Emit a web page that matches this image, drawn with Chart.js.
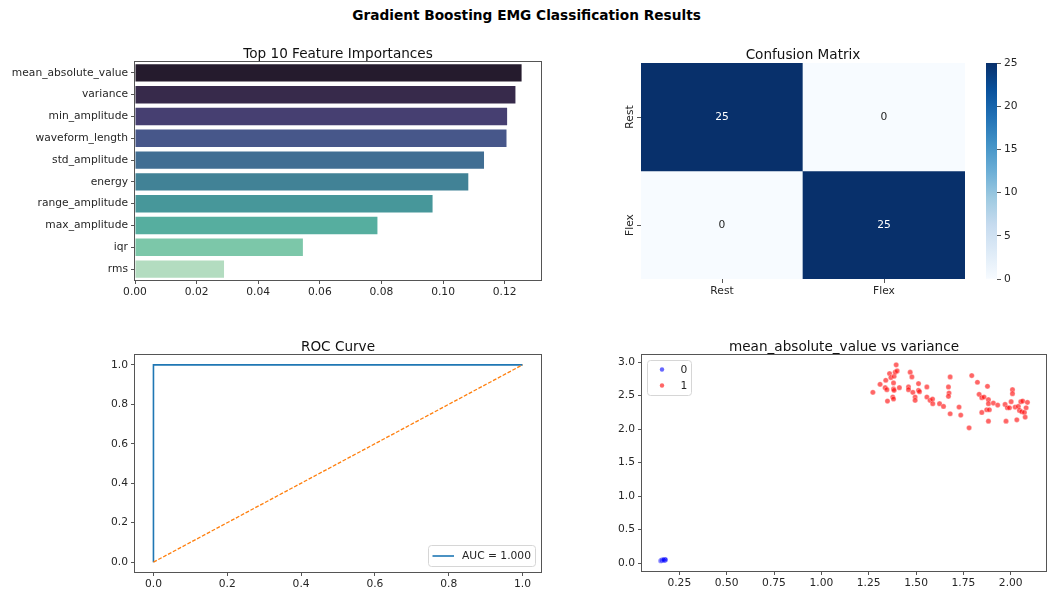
<!DOCTYPE html>
<html>
<head>
<meta charset="utf-8">
<script src="https://cdn.jsdelivr.net/npm/chart.js@4.4.1/dist/chart.umd.min.js"></script>
<style>
  html, body { margin: 0; padding: 0; background: #fff; }
  #fig { position: relative; width: 1053px; height: 590px; overflow: hidden; font-family: "DejaVu Sans", sans-serif; }
  #fig canvas { position: absolute; }
  #suptitle { position: absolute; left: 0; top: 7px; width: 1053px; text-align: center;
              font: bold 13.7px "DejaVu Sans", sans-serif; color: #000; line-height: 17px; }
</style>
</head>
<body>
<div id="fig">
  <div id="suptitle">Gradient Boosting EMG Classification Results</div>
  <canvas id="cImp" width="560" height="260" style="left:0px;top:40px"></canvas>
  <canvas id="cCm"  width="380" height="260" style="left:590px;top:40px"></canvas>
  <canvas id="cBar" width="93"  height="260" style="left:960px;top:40px"></canvas>
  <canvas id="cRoc" width="560" height="260" style="left:0px;top:330px"></canvas>
  <canvas id="cSc"  width="463" height="260" style="left:590px;top:330px"></canvas>
</div>
<script>
// ---------- data ----------
const features = ['mean_absolute_value', 'variance', 'min_amplitude', 'waveform_length', 'std_amplitude',
                  'energy', 'range_amplitude', 'max_amplitude', 'iqr', 'rms'];
const importances = [0.1255, 0.1235, 0.1208, 0.1206, 0.1133, 0.1082, 0.0966, 0.0787, 0.0545, 0.0289];
const importanceTicks = [0, 0.02, 0.04, 0.06, 0.08, 0.10, 0.12];

const cmRows = ['Rest', 'Flex'];
const cmCols = ['Rest', 'Flex'];
const cmValues = [[25, 0], [0, 25]];
const colorbarTicks = [0, 5, 10, 15, 20, 25];

const rocFpr = [0, 0, 1];
const rocTpr = [0, 1, 1];
const chanceX = [0, 1];
const chanceY = [0, 1];
const rocAuc = 1.0;
const rocTicks = [0, 0.2, 0.4, 0.6, 0.8, 1.0];

const class0X = [0.152, 0.156, 0.158, 0.160, 0.162, 0.163, 0.165, 0.166, 0.168, 0.170, 0.172, 0.174, 0.176, 0.158, 0.167];
const class0Y = [0.036, 0.038, 0.040, 0.041, 0.043, 0.040, 0.045, 0.042, 0.046, 0.047, 0.048, 0.050, 0.052, 0.044, 0.049];
const class1X = [1.272, 1.310, 1.340, 1.337, 1.346, 1.349, 1.360, 1.367, 1.377, 1.381, 1.381, 1.381, 1.384, 1.390, 1.395,
                 1.400, 1.384, 1.412, 1.460, 1.460, 1.469, 1.478, 1.483, 1.495, 1.495, 1.513, 1.513, 1.518, 1.557, 1.557,
                 1.574, 1.587, 1.588, 1.624, 1.645, 1.671, 1.674, 1.671, 1.680, 1.680, 1.727, 1.736, 1.780, 1.794, 1.824,
                 1.833, 1.847, 1.859, 1.847, 1.873, 1.877, 1.882, 1.882, 1.882, 1.887, 1.908, 1.931, 1.970, 1.975, 1.982,
                 1.993, 2.002, 2.009, 2.009, 2.023, 2.032, 2.040, 2.046, 2.053, 2.058, 2.063, 2.072, 2.076, 2.088, 2.081];
const class1Y = [2.55, 2.67, 2.73, 2.62, 2.59, 2.42, 2.83, 2.77, 2.48, 2.45, 2.69, 2.60, 2.79, 2.85, 2.96,
                 2.87, 2.58, 2.62, 2.63, 2.59, 2.85, 2.78, 2.55, 2.48, 2.43, 2.68, 2.58, 2.56, 2.63, 2.48,
                 2.43, 2.45, 2.38, 2.38, 2.34, 2.63, 2.54, 2.49, 2.78, 2.23, 2.33, 2.21, 2.02, 2.80, 2.70,
                 2.52, 2.47, 2.48, 2.25, 2.29, 2.64, 2.12, 2.44, 2.38, 2.29, 2.39, 2.36, 2.37, 2.12, 2.32,
                 2.32, 2.41, 2.59, 2.53, 2.33, 2.14, 2.34, 2.28, 2.41, 2.26, 2.42, 2.25, 2.18, 2.40, 2.32];
const scatterXTicks = [0.25, 0.50, 0.75, 1.00, 1.25, 1.50, 1.75, 2.00];
const scatterYTicks = [0, 0.5, 1.0, 1.5, 2.0, 2.5, 3.0];

// ---------- styling ----------
const FONT = '"DejaVu Sans", sans-serif';
const TICK_FONT = { family: FONT, size: 10.7 };
const TEXT = '#262626';
const SPINE = '#555';
const makoPalette = ['#251b2d', '#372a4b', '#463f71', '#47578a', '#416e93', '#418296', '#47979a', '#56ae9f', '#7cc7a9', '#b3dcc0'];
const bluesStops = ['#f7fbff', '#deebf7', '#c6dbef', '#9ecae1', '#6baed6', '#4292c6', '#2171b5', '#08519c', '#08306b'];

Chart.defaults.font.family = FONT;
Chart.defaults.font.size = 10.7;
Chart.defaults.color = TEXT;
Chart.defaults.animation = false;
Chart.defaults.responsive = false;
Chart.defaults.plugins.legend.display = false;
Chart.defaults.plugins.tooltip.enabled = false;

function hexToRgb(h) {
  const n = parseInt(h.slice(1), 16);
  return [(n >> 16) & 255, (n >> 8) & 255, n & 255];
}
function blues(t) {
  t = Math.max(0, Math.min(1, t));
  const p = t * (bluesStops.length - 1);
  const i = Math.min(Math.floor(p), bluesStops.length - 2);
  const f = p - i;
  const a = hexToRgb(bluesStops[i]), b = hexToRgb(bluesStops[i + 1]);
  const c = a.map((v, k) => Math.round(v + (b[k] - v) * f));
  return `rgb(${c[0]},${c[1]},${c[2]})`;
}

const fixedTicks = values => scale => { scale.ticks = values.map(v => ({ value: v })); };
const tickGrid = { display: true, drawOnChartArea: false, drawTicks: true, tickLength: 4, tickColor: SPINE, tickWidth: 1 };

// subplot title above the plot area
const axTitle = text => ({
  id: 'axTitle',
  afterDraw(chart) {
    const { ctx, chartArea: a } = chart;
    ctx.save();
    ctx.font = `13.6px ${FONT}`;
    ctx.fillStyle = '#111';
    ctx.textAlign = 'center';
    ctx.textBaseline = 'alphabetic';
    ctx.fillText(text, (a.left + a.right) / 2, a.top - 4);
    ctx.restore();
  }
});

// four-sided axes box
const frame = {
  id: 'frame',
  afterDraw(chart) {
    const { ctx, chartArea: a } = chart;
    ctx.save();
    ctx.strokeStyle = SPINE;
    ctx.lineWidth = 1;
    const l = Math.round(a.left) - 0.5, t = Math.round(a.top) - 0.5;
    const r = Math.round(a.right) + 0.5, b = Math.round(a.bottom) + 0.5;
    ctx.strokeRect(l, t, r - l, b - t);
    ctx.restore();
  }
};

function legendBox(ctx, x, y, w, h) {
  ctx.save();
  ctx.fillStyle = 'rgba(255,255,255,0.8)';
  ctx.strokeStyle = '#d6d6d6';
  ctx.lineWidth = 1;
  ctx.beginPath();
  ctx.roundRect(x + 0.5, y + 0.5, w, h, 3);
  ctx.fill();
  ctx.stroke();
  ctx.restore();
}

// ---------- feature importances ----------
new Chart(document.getElementById('cImp'), {
  type: 'bar',
  data: {
    labels: features,
    datasets: [{
      data: importances,
      backgroundColor: makoPalette,
      borderWidth: 0,
      barPercentage: 0.8,
      categoryPercentage: 1.0
    }]
  },
  options: {
    indexAxis: 'y',
    layout: { padding: { left: 0, right: 19, top: 22, bottom: 0 } },
    scales: {
      x: {
        type: 'linear', min: 0, max: 0.1318,
        afterBuildTicks: fixedTicks(importanceTicks),
        afterFit: s => { s.height = 20; },
        ticks: { font: TICK_FONT, color: TEXT, padding: 2, maxRotation: 0, callback: v => Number(v).toFixed(2) },
        grid: tickGrid,
        border: { display: false }
      },
      y: {
        type: 'category',
        afterFit: s => { s.width = 135; },
        ticks: { font: TICK_FONT, color: TEXT, padding: 3 },
        grid: Object.assign({}, tickGrid, { offset: false }),
        border: { display: false }
      }
    }
  },
  plugins: [frame, axTitle('Top 10 Feature Importances')]
});

// ---------- confusion matrix ----------
const cmMax = Math.max(...cmValues.flat());
const cmLabels = {
  id: 'cmLabels',
  afterDatasetsDraw(chart) {
    const { ctx } = chart;
    ctx.save();
    ctx.font = `10.7px ${FONT}`;
    ctx.textAlign = 'center';
    ctx.textBaseline = 'middle';
    chart.data.datasets.forEach((ds, i) => {
      chart.getDatasetMeta(i).data.forEach((bar, j) => {
        const v = cmValues[i][j];
        ctx.fillStyle = v / cmMax > 0.5 ? '#ffffff' : TEXT;
        ctx.fillText(String(v), bar.x, (bar.y + bar.base) / 2);
      });
    });
    // row labels, rotated
    const ys = chart.scales.y;
    ctx.fillStyle = TEXT;
    cmRows.forEach((r, i) => {
      const y = ys.getPixelForValue(cmRows.length - 1 - i + 0.5);
      ctx.save();
      ctx.translate(chart.chartArea.left - 11, y);
      ctx.rotate(-Math.PI / 2);
      ctx.fillText(r, 0, 0);
      ctx.restore();
    });
    ctx.restore();
  }
};

new Chart(document.getElementById('cCm'), {
  type: 'bar',
  data: {
    labels: cmCols,
    datasets: cmRows.map((r, i) => ({
      label: r,
      data: cmCols.map(() => [cmRows.length - 1 - i, cmRows.length - i]),
      backgroundColor: cmCols.map((c, j) => blues(cmValues[i][j] / cmMax)),
      borderWidth: 0,
      grouped: false,
      barPercentage: 1.0,
      categoryPercentage: 1.0
    }))
  },
  options: {
    layout: { padding: { left: 0, right: 5, top: 23, bottom: 0 } },
    scales: {
      x: {
        type: 'category', offset: true,
        afterFit: s => { s.height = 21; },
        ticks: { font: TICK_FONT, color: TEXT, padding: 2 },
        grid: Object.assign({}, tickGrid, { offset: false }),
        border: { display: false }
      },
      y: {
        type: 'linear', min: 0, max: cmRows.length,
        afterBuildTicks: fixedTicks(cmRows.map((r, i) => i + 0.5)),
        afterFit: s => { s.width = 51; },
        ticks: { display: false },
        grid: tickGrid,
        border: { display: false }
      }
    }
  },
  plugins: [cmLabels, axTitle('Confusion Matrix')]
});

// colorbar
new Chart(document.getElementById('cBar'), {
  type: 'bar',
  data: {
    labels: [''],
    datasets: [{
      data: [[0, cmMax]],
      borderWidth: 0,
      barPercentage: 1.0,
      categoryPercentage: 1.0,
      backgroundColor: ctx => {
        const a = ctx.chart.chartArea;
        if (!a) return bluesStops[0];
        const g = ctx.chart.ctx.createLinearGradient(0, a.bottom, 0, a.top);
        bluesStops.forEach((c, k) => g.addColorStop(k / (bluesStops.length - 1), c));
        return g;
      }
    }]
  },
  options: {
    layout: { padding: { left: 26, right: 0, top: 23, bottom: 21 } },
    scales: {
      x: { display: false, offset: true },
      y: {
        type: 'linear', position: 'right', min: 0, max: cmMax,
        afterBuildTicks: fixedTicks(colorbarTicks),
        afterFit: s => { s.width = 56; },
        ticks: { font: TICK_FONT, color: TEXT, padding: 3 },
        grid: tickGrid,
        border: { display: false }
      }
    }
  }
});

// ---------- ROC curve ----------
const rocLegend = {
  id: 'rocLegend',
  afterDraw(chart) {
    const { ctx, chartArea: a } = chart;
    const w = 107, h = 21;
    const x = a.right - 6 - w, y = a.bottom - 6 - h;
    legendBox(ctx, x, y, w, h);
    ctx.save();
    ctx.strokeStyle = '#1f77b4';
    ctx.lineWidth = 1.6;
    ctx.beginPath();
    ctx.moveTo(x + 4.5, y + h / 2 + 0.5);
    ctx.lineTo(x + 26, y + h / 2 + 0.5);
    ctx.stroke();
    ctx.font = `10.7px ${FONT}`;
    ctx.fillStyle = TEXT;
    ctx.textBaseline = 'middle';
    ctx.fillText(`AUC = ${rocAuc.toFixed(3)}`, x + 34, y + h / 2 + 1);
    ctx.restore();
  }
};

new Chart(document.getElementById('cRoc'), {
  type: 'scatter',
  data: {
    datasets: [
      {
        data: rocFpr.map((x, i) => ({ x, y: rocTpr[i] })),
        showLine: true, borderColor: '#1f77b4', borderWidth: 1.6, pointRadius: 0, order: 1
      },
      {
        data: chanceX.map((x, i) => ({ x, y: chanceY[i] })),
        showLine: true, borderColor: '#ff7f0e', borderWidth: 1.3, borderDash: [3.8, 1.7], pointRadius: 0, order: 0
      }
    ]
  },
  options: {
    layout: { padding: { left: 0, right: 19, top: 25, bottom: 0 } },
    scales: {
      x: {
        type: 'linear', min: -0.05, max: 1.05,
        afterBuildTicks: fixedTicks(rocTicks),
        afterFit: s => { s.height = 18; },
        ticks: { font: TICK_FONT, color: TEXT, padding: 2, maxRotation: 0, callback: v => Number(v).toFixed(1) },
        grid: tickGrid, border: { display: false }
      },
      y: {
        type: 'linear', min: -0.05, max: 1.05,
        afterBuildTicks: fixedTicks(rocTicks),
        afterFit: s => { s.width = 135; },
        ticks: { font: TICK_FONT, color: TEXT, padding: 3, callback: v => Number(v).toFixed(1) },
        grid: tickGrid, border: { display: false }
      }
    }
  },
  plugins: [frame, rocLegend, axTitle('ROC Curve')]
});

// ---------- feature scatter ----------
const classColors = ['rgba(0,0,255,0.6)', 'rgba(255,0,0,0.6)'];
const scLegend = {
  id: 'scLegend',
  afterDraw(chart) {
    const { ctx, chartArea: a } = chart;
    const x = a.left + 5, y = a.top + 5, w = 44, h = 35;
    legendBox(ctx, x, y, w, h);
    ctx.save();
    ctx.font = `10.7px ${FONT}`;
    ctx.textBaseline = 'middle';
    ['0', '1'].forEach((lab, k) => {
      const cy = y + 9.5 + k * 16;
      ctx.fillStyle = classColors[k];
      ctx.beginPath();
      ctx.arc(x + 15, cy, 2.2, 0, Math.PI * 2);
      ctx.fill();
      ctx.fillStyle = TEXT;
      ctx.fillText(lab, x + 33.5, cy + 0.5);
    });
    ctx.restore();
  }
};

const pointStyle = color => ({
  backgroundColor: color,
  borderColor: 'rgba(255,255,255,0.6)',
  borderWidth: 0.5,
  pointRadius: 2.6,
  pointHoverRadius: 2.6
});

new Chart(document.getElementById('cSc'), {
  type: 'scatter',
  data: {
    datasets: [
      Object.assign({ label: '0', data: class0X.map((x, i) => ({ x, y: class0Y[i] })) }, pointStyle(classColors[0])),
      Object.assign({ label: '1', data: class1X.map((x, i) => ({ x, y: class1Y[i] })) }, pointStyle(classColors[1]))
    ]
  },
  options: {
    layout: { padding: { left: 0, right: 7, top: 25, bottom: 0 } },
    scales: {
      x: {
        type: 'linear', min: 0.053, max: 2.186,
        afterBuildTicks: fixedTicks(scatterXTicks),
        afterFit: s => { s.height = 19; },
        ticks: { font: TICK_FONT, color: TEXT, padding: 2, maxRotation: 0, callback: v => Number(v).toFixed(2) },
        grid: tickGrid, border: { display: false }
      },
      y: {
        type: 'linear', min: -0.117, max: 3.107,
        afterBuildTicks: fixedTicks(scatterYTicks),
        afterFit: s => { s.width = 52; },
        ticks: { font: TICK_FONT, color: TEXT, padding: 3, callback: v => Number(v).toFixed(1) },
        grid: tickGrid, border: { display: false }
      }
    }
  },
  plugins: [frame, scLegend, axTitle('mean_absolute_value vs variance')]
});
</script>
</body>
</html>
